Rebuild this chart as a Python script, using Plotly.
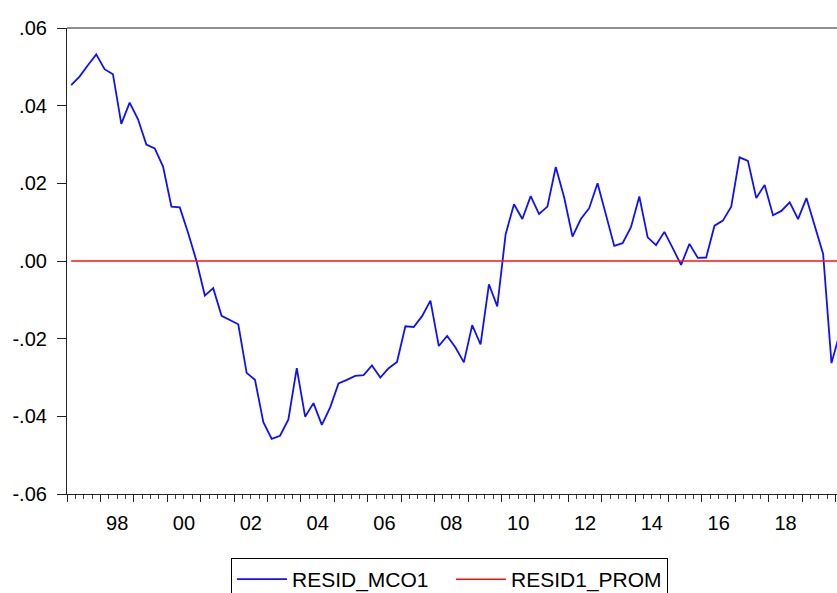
import plotly.graph_objects as go
import pandas as pd

# Quarterly periods 1997Q1 .. 2020Q1
periods = pd.period_range("1997Q1", "2020Q1", freq="Q")

resid_mco1 = [
    0.0453, 0.0475, 0.0504, 0.0532, 0.0494, 0.0481, 0.0353, 0.0408,
    0.0365, 0.0300, 0.0290, 0.0243, 0.0140, 0.0138, 0.0072, 0.0000,
    -0.0089, -0.0070, -0.0141, -0.0152, -0.0163, -0.0288, -0.0306, -0.0415,
    -0.0458, -0.0450, -0.0408, -0.0276, -0.0401, -0.0366, -0.0422, -0.0377,
    -0.0315, -0.0306, -0.0296, -0.0294, -0.0269, -0.0300, -0.0276, -0.0260,
    -0.0168, -0.0170, -0.0142, -0.0102, -0.0219, -0.0193, -0.0223, -0.0261,
    -0.0165, -0.0215, -0.0060, -0.0117, 0.0069, 0.0146, 0.0108, 0.0167,
    0.0121, 0.0140, 0.0242, 0.0164, 0.0063, 0.0108, 0.0136, 0.0200,
    0.0121, 0.0039, 0.0046, 0.0087, 0.0166, 0.0061, 0.0041, 0.0075,
    0.0033, -0.0010, 0.0044, 0.0008, 0.0009, 0.0091, 0.0104, 0.0140,
    0.0267, 0.0258, 0.0162, 0.0196, 0.0118, 0.0129, 0.0151, 0.0108,
    0.0162, 0.0089, 0.0018, -0.0263, -0.0185,
]
resid1_prom = [0.0] * len(resid_mco1)

y_tickvals = [0.06, 0.04, 0.02, 0.0, -0.02, -0.04, -0.06]
y_ticktext = [".06", ".04", ".02", ".00", "-.02", "-.04", "-.06"]

x_label_years = list(range(1998, 2020, 2))
x_ticktext = ["98", "00", "02", "04", "06", "08", "10", "12", "14", "16", "18"]

# Each quarter occupies a slot; observations are drawn at slot centres
x = [p.year + (p.quarter - 1) / 4 + 0.125 for p in periods]

FONT = "Liberation Sans, Arial, sans-serif"
FS = 20
XR = [1997.0, 2020.04]
PH = 466  # plot height in px

fig = go.Figure()
fig.add_trace(go.Scatter(x=x, y=resid_mco1, mode="lines",
                         name="RESID_MCO1\u00a0\u00a0\u00a0",
                         line=dict(color="#1010ff", width=1.8)))
fig.add_trace(go.Scatter(x=x, y=resid1_prom, mode="lines", name="RESID1_PROM",
                         line=dict(color="#ff1010", width=1.5), xaxis="x2"))

fig.update_layout(
    width=837, height=593,
    margin=dict(l=67, r=0, t=28, b=99, autoexpand=False),
    paper_bgcolor="white", plot_bgcolor="white",
    font=dict(family=FONT, size=FS, color="black"),
    showlegend=True,
    legend=dict(orientation="h", x=(231 - 67) / 770, xanchor="left",
                y=-(558 - 494) / PH, yanchor="top",
                bordercolor="black", borderwidth=1,
                font=dict(family=FONT, size=21, color="black"),
                itemwidth=50, tracegroupgap=0),
    xaxis=dict(range=XR, showgrid=False, zeroline=False,
               showline=True, linecolor="#222", linewidth=1.2,
               tickmode="array", tickvals=list(range(1997, 2021)),
               ticks="outside", ticklen=7, tickcolor="#222", tickwidth=1,
               showticklabels=False,
               minor=dict(dtick=0.25, tick0=1997, ticks="outside", ticklen=4,
                          tickcolor="#444", tickwidth=1, showgrid=False)),
    xaxis2=dict(range=XR, overlaying="x", side="bottom", showgrid=False,
                zeroline=False, showline=False,
                tickmode="array", tickvals=[yy + 0.5 for yy in x_label_years],
                ticktext=x_ticktext, ticks="outside", ticklen=11,
                tickcolor="rgba(0,0,0,0)",
                tickfont=dict(family=FONT, size=FS, color="black")),
    yaxis=dict(range=[-0.06, 0.06], showgrid=False, zeroline=False,
               showline=True, linecolor="#222", linewidth=1.2,
               tickmode="array", tickvals=y_tickvals, ticktext=y_ticktext,
               ticks="outside", ticklen=9, tickcolor="#222", tickwidth=1,
               ticklabelstandoff=6,
               tickfont=dict(family=FONT, size=FS, color="black")),
    shapes=[dict(type="line", xref="paper", yref="paper", x0=0, x1=1, y0=1, y1=1,
                 line=dict(color="#222", width=1.2))],
)

fig.write_html(
    "out.html",
    config={"displayModeBar": False},
    post_script="document.body.style.margin='0';document.body.style.overflow='hidden';",
)
